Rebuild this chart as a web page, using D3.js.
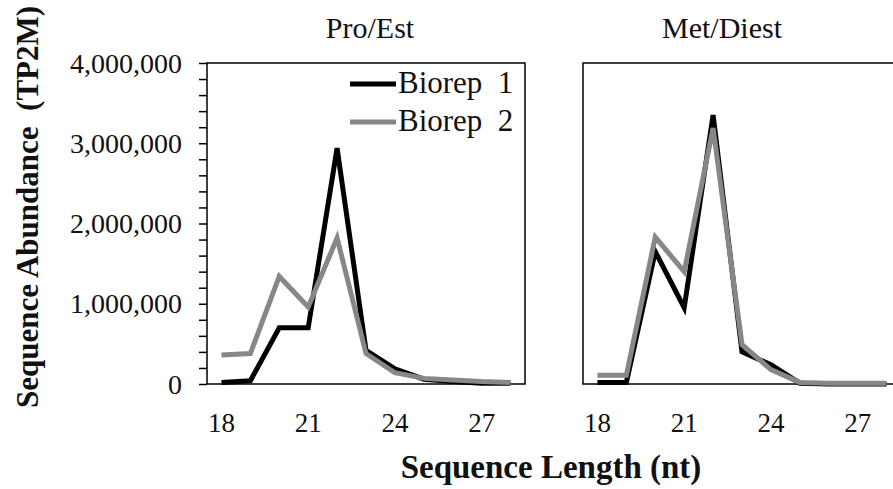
<!DOCTYPE html>
<html>
<head>
<meta charset="utf-8">
<script src="https://cdn.jsdelivr.net/npm/d3@7"></script>
<style>
  body { margin: 0; background: #fff; }
  svg text { font-family: 'Liberation Serif', 'Times New Roman', 'DejaVu Serif', serif; fill: #111; }
</style>
</head>
<body>
<svg></svg>
<script>
const size = {w: 893, h: 489};
const svg = d3.select('svg');

svg.attr('width', size.w)
    .attr('height', size.h);

// sequence lengths (nt)
const lengths = [18, 19, 20, 21, 22, 23, 24, 25, 26, 27, 28];
const xTicks = [18, 21, 24, 27];
const yTicks = [0, 1000000, 2000000, 3000000, 4000000];

const panelNames = ['Pro/Est', 'Met/Diest'];
const seriesNames = ['Biorep 1', 'Biorep 2'];

// abundance (TP2M)
const proEstRep1 = [20000, 40000, 700000, 700000, 2940000, 420000, 190000, 60000, 30000, 10000, 10000];
const proEstRep2 = [360000, 380000, 1340000, 960000, 1820000, 380000, 140000, 70000, 50000, 30000, 20000];
const metDiestRep1 = [20000, 20000, 1650000, 950000, 3350000, 400000, 240000, 10000, 0, 0, 0];
const metDiestRep2 = [110000, 110000, 1830000, 1400000, 3190000, 490000, 180000, 20000, 10000, 10000, 10000];

const panelData = [
    [proEstRep1, proEstRep2],
    [metDiestRep1, metDiestRep2]
];

const colors = ['#000000', '#878787'];
const panelLeft = [207, 583];
const panelW = 318;
const plotTop = 63, plotBottom = 384;

let y = d3.scaleLinear()
    .domain([0, 4000000])
    .range([plotBottom, plotTop]);

panelData.forEach(function (series, i) {
    let g = svg.append('g').classed('panel', true);

    let x = d3.scalePoint()
        .domain(lengths)
        .range([panelLeft[i], panelLeft[i] + panelW])
        .padding(0.5);

    // frame
    g.append('rect')
        .attr('x', panelLeft[i])
        .attr('y', plotTop)
        .attr('width', panelW)
        .attr('height', plotBottom - plotTop)
        .attr('fill', 'none')
        .attr('stroke', '#000')
        .attr('stroke-width', 1.5);

    // title
    g.append('text')
        .attr('x', i === 0 ? 370 : 722)
        .attr('y', 38)
        .attr('text-anchor', 'middle')
        .style('font-size', '30px')
        .text(panelNames[i]);

    // x tick labels
    g.selectAll('text.xt')
        .data(xTicks)
        .enter()
        .append('text')
        .classed('xt', true)
        .attr('x', d => x(d))
        .attr('y', 432)
        .attr('text-anchor', 'middle')
        .style('font-size', '27px')
        .text(d => d);

    let line = d3.line()
        .x((d, j) => x(lengths[j]))
        .y(d => y(d));

    g.selectAll('path.series')
        .data(series)
        .enter()
        .append('path')
        .classed('series', true)
        .attr('d', d => line(d))
        .attr('fill', 'none')
        .attr('stroke', (d, j) => colors[j])
        .attr('stroke-width', 5)
        .attr('stroke-linejoin', 'miter');
});

// y axis on left panel
let yAxis = d3.axisLeft(y)
    .tickValues(d3.range(0, 4000001, 200000))
    .tickSize(8)
    .tickFormat('');

let yAxisG = svg.append('g')
    .attr('transform', 'translate(' + panelLeft[0] + ',0)')
    .call(yAxis);
yAxisG.select('.domain').remove();
yAxisG.selectAll('line').attr('stroke', '#000').attr('stroke-width', 1.5);

svg.selectAll('text.yt')
    .data(yTicks)
    .enter()
    .append('text')
    .classed('yt', true)
    .attr('x', 182)
    .attr('y', d => y(d))
    .attr('dy', '0.34em')
    .attr('text-anchor', 'end')
    .style('font-size', '28px')
    .text(d => d3.format(',')(d));

// legend
let legend = svg.append('g').classed('legend', true);
seriesNames.forEach(function (name, j) {
    let ly = 84 + j * 38;
    legend.append('line')
        .attr('x1', 350).attr('x2', 396)
        .attr('y1', ly).attr('y2', ly)
        .attr('stroke', colors[j])
        .attr('stroke-width', 5);
    legend.append('text')
        .attr('x', 398)
        .attr('y', ly)
        .attr('dy', '0.28em')
        .style('font-size', '31px')
        .style('white-space', 'pre')
        .text(name.replace(' ', '  '));
});

// axis titles
svg.append('text')
    .attr('x', 551)
    .attr('y', 478)
    .attr('text-anchor', 'middle')
    .style('font-size', '33px')
    .style('font-weight', 'bold')
    .text('Sequence Length (nt)');

svg.append('text')
    .attr('transform', 'translate(38,207) rotate(-90)')
    .attr('text-anchor', 'middle')
    .style('font-size', '31px')
    .style('font-weight', 'bold')
    .style('white-space', 'pre')
    .text('Sequence Abundance  (TP2M)');
</script>
</body>
</html>
